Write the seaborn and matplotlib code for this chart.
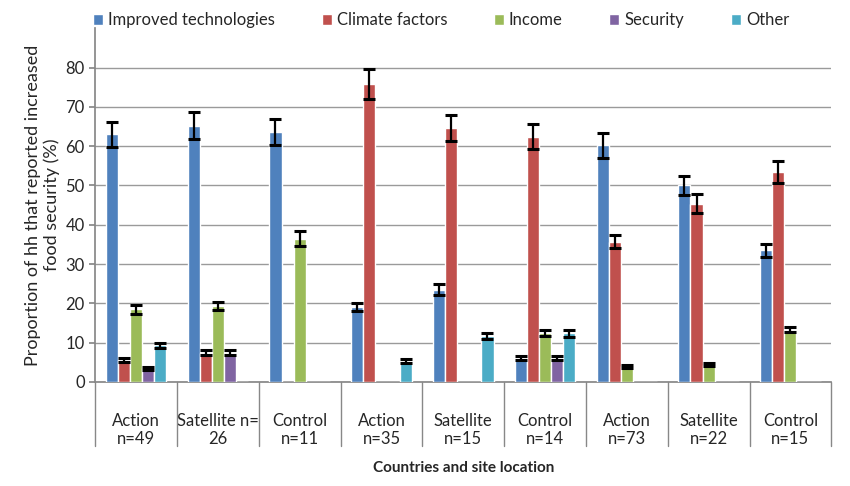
import matplotlib
matplotlib.use("Agg")
import matplotlib.pyplot as plt
import numpy as np
import pandas as pd
import seaborn as sns

groups = ["Action\nn=49", "Satellite n=\n26", "Control\nn=11", "Action\nn=35", "Satellite\nn=15",
          "Control\nn=14", "Action\nn=73", "Satellite\nn=22", "Control\nn=15"]
series = ["Improved technologies", "Climate factors", "Income", "Security", "Other"]
colors = ["#4F81BD", "#C0504D", "#9BBB59", "#8064A2", "#4BACC6"]

improved = [63.0, 65.2, 63.6, 19.0, 23.5, 6.2, 60.2, 50.0, 33.5]
climate = [5.5, 7.5, 0, 75.7, 64.6, 62.4, 35.7, 45.4, 53.4]
income = [18.5, 19.3, 36.5, 0, 0, 12.4, 4.0, 4.4, 13.3]
security = [3.5, 7.5, 0, 0, 0, 6.2, 0, 0, 0]
other = [9.3, 0, 0, 5.3, 11.7, 12.4, 0, 0, 0]

err_improved = [3.2, 3.4, 3.2, 1.0, 1.4, 0.5, 3.1, 2.5, 1.6]
err_climate = [0.5, 0.7, 0, 3.8, 3.3, 3.2, 1.6, 2.3, 2.7]
err_income = [1.1, 1.1, 1.8, 0, 0, 0.7, 0.4, 0.4, 0.7]
err_security = [0.4, 0.7, 0, 0, 0, 0.5, 0, 0, 0]
err_other = [0.7, 0, 0, 0.5, 0.7, 0.9, 0, 0, 0]

values = [improved, climate, income, security, other]
errors = [err_improved, err_climate, err_income, err_security, err_other]

rows = []
for s, vals in zip(series, values):
    for i, v in enumerate(vals):
        rows.append({"group": i, "series": s, "value": v})
df = pd.DataFrame(rows)

sns.set_theme(style="white")
plt.rcParams["font.family"] = ["Lato", "DejaVu Sans"]

fig, ax = plt.subplots(figsize=(8.5, 4.86), dpi=100)
sns.barplot(data=df, x="group", y="value", hue="series", hue_order=series,
            palette=colors, width=0.74, errorbar=None, ax=ax, zorder=3,
            saturation=1)

# error bars on top of each bar
bar_containers = list(ax.containers)
for k, cont in enumerate(bar_containers):
    for i, patch in enumerate(cont.patches):
        e = errors[k][i]
        if e > 0:
            ax.errorbar(patch.get_x() + patch.get_width() / 2, patch.get_height(), yerr=e,
                        fmt="none", ecolor="black", elinewidth=1.6, capsize=4, capthick=2.2, zorder=4)

ax.set_ylim(0, 90)
ax.set_yticks(range(0, 81, 10))
ax.set_xlim(-0.5, len(groups) - 0.5)
ax.yaxis.grid(True, color="#9a9a9a", linewidth=1, zorder=0)
ax.tick_params(axis="y", labelsize=12, left=True, length=4, color="#888888")
ax.set_ylabel("Proportion of hh that reported increased\nfood security (%)", fontsize=13)

ax.set_xticks(range(len(groups)))
ax.set_xticklabels(groups, fontsize=12)
ax.tick_params(axis="x", length=0, pad=22)
ax.set_xlabel("Countries and site location", fontsize=11, fontweight="bold", labelpad=10)

for sp in ["top", "right"]:
    ax.spines[sp].set_visible(False)
ax.spines["left"].set_color("#888888")
ax.spines["bottom"].set_color("#888888")

trans = ax.get_xaxis_transform()
for b in np.arange(-0.5, len(groups), 1.0):
    ax.plot([b, b], [0, -0.18], color="#888888", linewidth=1, transform=trans, clip_on=False)

ax.legend(loc="center", bbox_to_anchor=(0.47, 1.022), ncol=5, frameon=False,
          fontsize=12, handlelength=0.6, handleheight=0.6, columnspacing=2.8, handletextpad=0.3)

fig.subplots_adjust(left=0.112, right=0.978, top=0.942, bottom=0.214)
fig.savefig("out.png", dpi=100)
